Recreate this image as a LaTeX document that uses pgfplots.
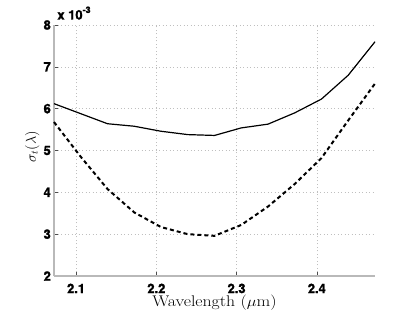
\documentclass[border=0pt]{standalone}
\usepackage{fontspec}
\usepackage{graphicx}
\usepackage{pgfplots}
\pgfplotsset{compat=1.18}
\newfontfamily\heros{TeX Gyre Heros}[BoldFeatures={FakeBold=1.5}]
\newcommand\tlfont{\heros\bfseries\fontsize{13}{15}\selectfont}
\begin{document}
\begin{tikzpicture}
\path[use as bounding box] (0,0) rectangle (415bp,312bp);
\begin{axis}[
  at={(54bp,36bp)}, anchor=south west,
  scale only axis, width=321bp, height=251bp,
  xmin=2.0725, xmax=2.4725, ymin=2, ymax=8,
  axis lines*=left,
  axis line style={-, line width=1.6bp, gray!55},
  xtick={2.1,2.2,2.3,2.4}, ytick={2,3,4,5,6,7,8},
  tick align=inside, major tick length=4bp,
  tick style={line width=0.5bp, black!70},
  grid=major,
  major grid style={line width=0.5bp, gray!50, dash pattern=on 1bp off 2.5bp},
  /pgf/number format/assume math mode=true,
  /pgf/number format/fixed, /pgf/number format/precision=1,
  tick label style={font=\tlfont},
  xticklabel style={inner sep=0pt, anchor=north, yshift=-7.5bp},
  yticklabel style={inner sep=0pt, anchor=east, xshift=-3bp},
  yticklabel={\pgfmathprintnumber[fixed,precision=0]{\tick}},
  xlabel={\scalebox{1.15}[1]{Wavelength ($\mu$m)}},
  ylabel={$\sigma_t(\lambda)$},
  xlabel style={font=\fontsize{15.5}{18}\selectfont, at={(axis description cs:0.5,-0.1235)}, anchor=base, inner sep=0pt},
  ylabel style={font=\fontsize{14}{16}\selectfont, at={(axis description cs:-0.068,0.515)}, anchor=center, inner sep=0pt},
  clip=false,
]
\addplot[black, line width=1.2bp] coordinates {
(2.0725,6.12) (2.10583,5.88) (2.13917,5.64) (2.1725,5.58) (2.20583,5.46)
(2.23917,5.38) (2.2725,5.36) (2.30583,5.54) (2.33917,5.63) (2.3725,5.90)
(2.40583,6.23) (2.43917,6.80) (2.4725,7.60)};
\addplot[black, line width=2bp, dash pattern=on 4bp off 3bp] coordinates {
(2.0725,5.68) (2.10583,4.85) (2.13917,4.08) (2.1725,3.52) (2.20583,3.17)
(2.23917,3.00) (2.2725,2.96) (2.30583,3.22) (2.33917,3.66) (2.3725,4.20)
(2.40583,4.82) (2.43917,5.72) (2.4725,6.60)};
\node[anchor=base west, inner sep=0pt, font=\tlfont]
  at (axis description cs:0.01,1.022) {x 10\raisebox{0.5em}{\fontsize{9}{10}\selectfont -3}};
\end{axis}
\end{tikzpicture}
\end{document}
